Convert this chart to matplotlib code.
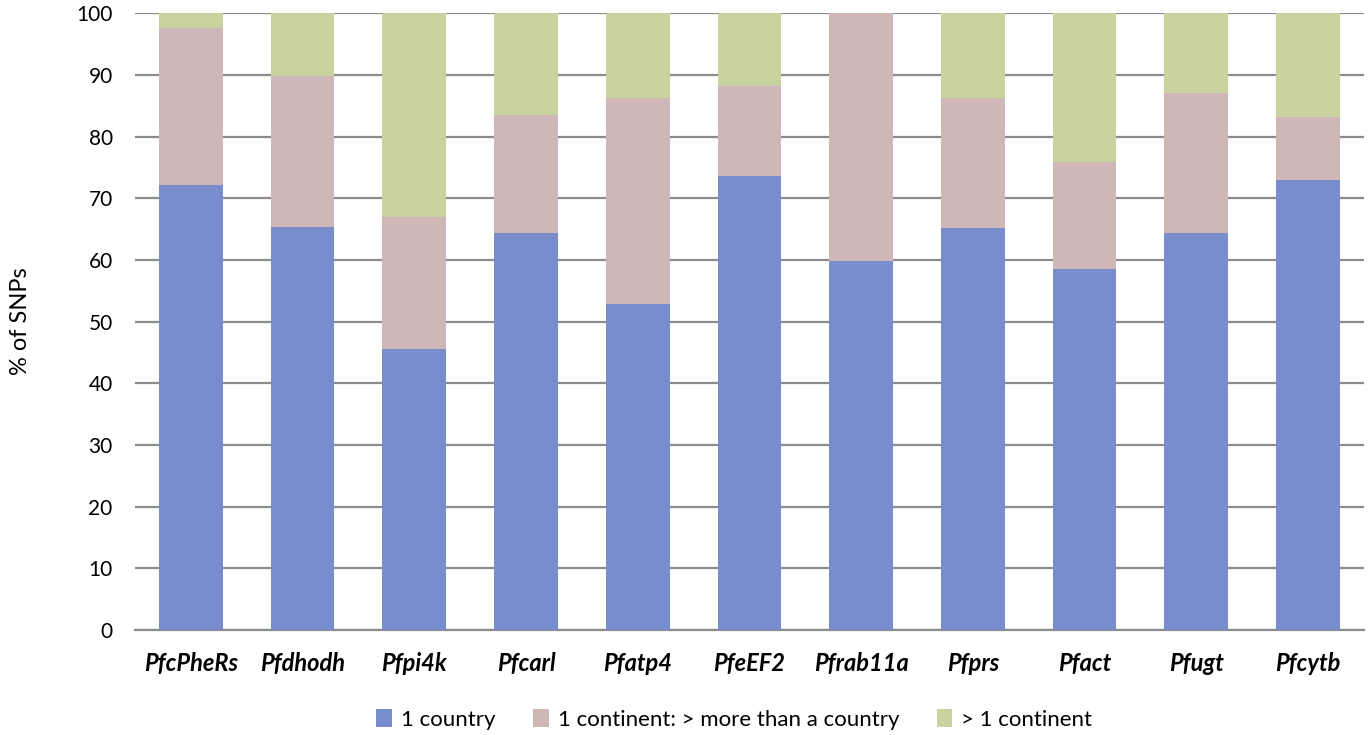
import numpy as np
import matplotlib.pyplot as plt
from matplotlib.patches import Patch

genes = ['PfcPheRs', 'Pfdhodh', 'Pfpi4k', 'Pfcarl', 'Pfatp4', 'PfeEF2',
         'Pfrab11a', 'Pfprs', 'Pfact', 'Pfugt', 'Pfcytb']
one_country = [72.1, 65.3, 45.5, 64.4, 52.8, 73.6, 59.9, 65.1, 58.6, 64.4, 72.9]
one_continent = [25.5, 24.5, 21.5, 19.1, 33.4, 14.6, 40.1, 21.2, 17.3, 22.7, 10.3]
multi_continent = [2.4, 10.2, 33.0, 16.5, 13.8, 11.8, 0.0, 13.7, 24.1, 12.9, 16.8]

series_names = ['1 country', '1 continent: > more than a country', '> 1 continent']
colors = ['#798ccc', '#cfb6b7', '#c9d39f']

fig = plt.figure(figsize=(13.7, 7.35), dpi=100)
ax = fig.add_axes([0.0985, 0.143, 0.897, 0.839])

x = np.arange(len(genes))
bottom = np.zeros(len(genes))
for vals, col in zip([one_country, one_continent, multi_continent], colors):
    ax.bar(x, vals, width=0.57, bottom=bottom, color=col, zorder=3)
    bottom += np.array(vals)

ax.set_xlim(-0.5, len(genes) - 0.5)
ax.set_ylim(0, 100)
ax.set_yticks(range(0, 101, 10))
ax.yaxis.grid(True, color='#8c8c8c', linewidth=1.6, zorder=0)
ax.set_axisbelow(True)
for s in ['top', 'right', 'left']:
    ax.spines[s].set_visible(False)
ax.spines['bottom'].set_color('#8c8c8c')
ax.spines['bottom'].set_linewidth(1.6)
ax.tick_params(axis='both', length=0)
ax.tick_params(axis='y', pad=16, labelsize=15)
for lbl in ax.get_yticklabels():
    lbl.set_fontfamily('Lato')

ax.set_xticks(x)
ax.set_xticklabels(genes, fontfamily='Lato', fontweight='bold',
                   fontstyle='italic', fontsize=17)
ax.tick_params(axis='x', pad=16)

ax.set_ylabel('% of SNPs', fontfamily='Lato', fontsize=17, labelpad=33)

handles = [Patch(facecolor=c, edgecolor='none') for c in colors]
fig.legend(handles, series_names, loc='lower center', bbox_to_anchor=(0.536, -0.02),
           ncol=3, frameon=False, prop={'family': 'Lato', 'size': 16},
           handlelength=0.7, handleheight=0.9, handletextpad=0.4, columnspacing=1.7)

fig.savefig('out.png', dpi=100)
